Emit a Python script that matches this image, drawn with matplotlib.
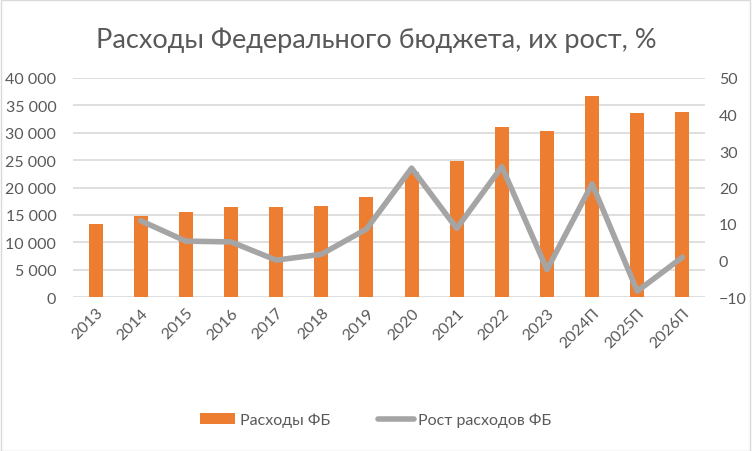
import numpy as np
import matplotlib.pyplot as plt

years = ['2013', '2014', '2015', '2016', '2017', '2018', '2019', '2020',
         '2021', '2022', '2023', '2024П', '2025П', '2026П']
spending = [13330, 14800, 15530, 16440, 16440, 16620, 18270, 22890,
            24840, 31050, 30320, 36710, 33610, 33790]
growth = [np.nan, 10.9, 5.3, 5.1, 0.1, 1.7, 8.6, 25.3,
          8.8, 25.7, -2.5, 21.0, -8.4, 0.9]

plt.rcParams['font.family'] = ['Lato', 'DejaVu Sans']
txt = '#595959'

fig = plt.figure(figsize=(7.52, 4.52), dpi=100)
ax = fig.add_axes([73 / 752, 1 - 298 / 452, (705 - 73) / 752, (298 - 79) / 452])
x = np.arange(len(years))

ax.bar(x, spending, width=0.31, color='#ED7D31', label='Расходы ФБ', zorder=2)
ax.set_ylim(0, 40000)
ax.set_yticks(np.arange(0, 40001, 5000))
ax.set_yticklabels([f'{v:,}'.replace(',', ' ') for v in range(0, 40001, 5000)])
ax.set_xlim(-0.5, len(years) - 0.5)
ax.set_xticks(x)
ax.set_xticklabels(years, rotation=45, ha='right', rotation_mode='anchor')
ax.grid(axis='y', color='#D9D9D9', linewidth=1.2, zorder=0)
for s in ax.spines.values():
    s.set_visible(False)
ax.tick_params(length=0, colors=txt, labelsize=11.5)
ax.tick_params(axis='y', pad=12)
ax.tick_params(axis='x', pad=6)

ax2 = ax.twinx()
ax2.plot(x, growth, color='#A5A5A5', linewidth=4, solid_capstyle='round',
         label='Рост расходов ФБ', zorder=3)
ax2.set_ylim(-10, 50)
ax2.set_yticks(np.arange(-10, 51, 10))
for s in ax2.spines.values():
    s.set_visible(False)
ax2.tick_params(length=0, colors=txt, labelsize=11.5, pad=10)

fig.suptitle('Расходы Федерального бюджета, их рост, %', y=1 - 40 / 452,
             va='center', fontsize=19.5, color=txt)

h1, l1 = ax.get_legend_handles_labels()
h2, l2 = ax2.get_legend_handles_labels()
fig.legend(h1 + h2, l1 + l2, loc='center', bbox_to_anchor=(0.5, 1 - 421 / 452),
           ncol=2, frameon=False, fontsize=11.5, labelcolor=txt,
           handlelength=2.2, columnspacing=3, handletextpad=0.3)

fig.patches.append(plt.Rectangle((0.001, 0.001), 0.997, 0.997, transform=fig.transFigure,
                                 fill=False, edgecolor='#D9D9D9', linewidth=1))

fig.savefig('out.png', dpi=100)
